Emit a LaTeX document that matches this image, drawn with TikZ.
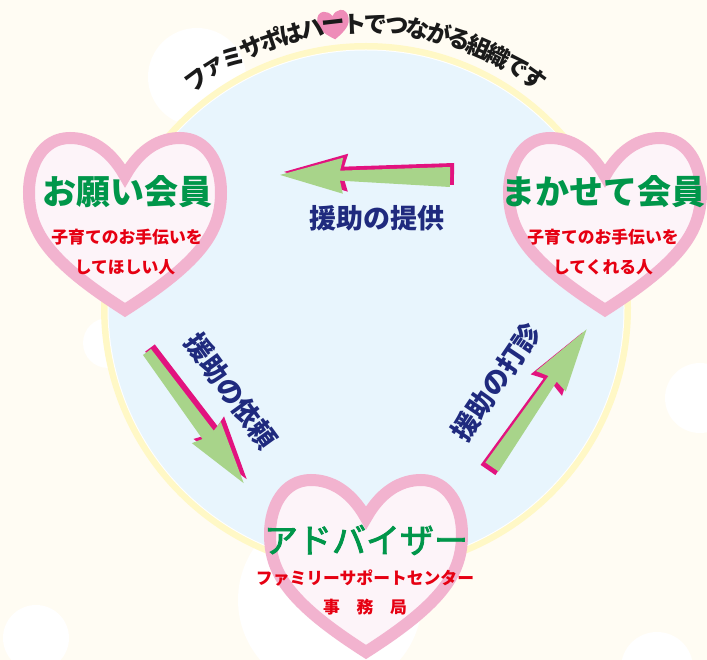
\documentclass[tikz,border=0pt]{standalone}
\usepackage{fontspec}
\newfontfamily\jp{Noto Sans CJK JP}
\newfontfamily\jpmed[FakeBold=2.5]{Noto Sans CJK JP}
\definecolor{bgcream}{HTML}{FFFCF3}
\definecolor{skyfill}{HTML}{E8F5FD}
\definecolor{ringyel}{HTML}{FFF8C6}
\definecolor{heartpink}{HTML}{F2B3CF}
\definecolor{heartin}{HTML}{FDF4F9}
\definecolor{titlegreen}{HTML}{00964A}
\definecolor{subred}{HTML}{E60012}
\definecolor{labnavy}{HTML}{1F2A7E}
\definecolor{arrgreen}{HTML}{A8D48A}
\definecolor{arrmag}{HTML}{E2137F}
\definecolor{smallheart}{HTML}{EE8CB8}
\definecolor{arcink}{HTML}{1A1A1A}

\newcommand\boltarrow[8]{%
 \begin{scope}[shift={(#1,#2)}]
  \begin{scope}[shift={(#7,#8)},rotate=#3]
   \fill[arrmag] (0,{-#5-1}) -- ({#4-60},{-#6-1}) -- ({#4-64},-19) -- (#4,0) -- ({#4-64},19) -- ({#4-60},{#6+1}) -- (0,{#5+1}) -- cycle;
  \end{scope}
  \begin{scope}[rotate=#3]
   \fill[arrgreen] (0,-#5) -- ({#4-60},-#6) -- ({#4-63},-18) -- (#4,0) -- ({#4-63},18) -- ({#4-60},#6) -- (0,#5) -- cycle;
  \end{scope}
 \end{scope}}

\tikzset{
 pics/bigheart/.style={code={
  \draw[line width=12pt, heartpink, fill=heartin, line join=miter, miter limit=10]
   (-96,-32) .. controls (-96,5) and (-80,35) .. (0,86)
   .. controls (80,35) and (96,5) .. (96,-32)
   .. controls (96,-60) and (82,-86) .. (55,-86)
   .. controls (35,-86) and (15,-75) .. (0,-48)
   .. controls (-15,-75) and (-35,-86) .. (-55,-86)
   .. controls (-82,-86) and (-96,-60) .. (-96,-32) -- cycle;
 }},
 pics/tinyheart/.style={code={
  \fill[smallheart]
   (-102,-32) .. controls (-102,5) and (-85,38) .. (0,93)
   .. controls (85,38) and (102,5) .. (102,-32)
   .. controls (102,-64) and (86,-92) .. (55,-92)
   .. controls (35,-92) and (15,-80) .. (0,-58)
   .. controls (-15,-80) and (-35,-92) .. (-55,-92)
   .. controls (-86,-92) and (-102,-64) .. (-102,-32) -- cycle;
 }},
 greentitle/.style={font=\jp\bfseries\fontsize{34}{40}\selectfont, text=titlegreen, inner sep=0pt},
 greenplain/.style={font=\jpmed\fontsize{34}{40}\selectfont, text=titlegreen, inner sep=0pt},
 redsub/.style={font=\jp\bfseries\fontsize{16.8}{20}\selectfont, text=subred, inner sep=0pt},
 navylab/.style={font=\jp\bfseries\fontsize{27}{32}\selectfont, text=labnavy, inner sep=0pt},
 arcchar/.style={font=\jp\bfseries\fontsize{23.5}{26}\selectfont, text=arcink, inner sep=0pt},
}

\begin{document}
\begin{tikzpicture}[x=1pt,y=-1pt]
\useasboundingbox (0,0) rectangle (707,660);
\fill[bgcream] (0,0) rectangle (707,660);
% faint white background circles
\foreach \cx/\cy/\r in {197/77/49, 108/343/25, 700/398/35, 36/638/33, 330/600/92, 657/668/36}
  \fill[white] (\cx,\cy) circle[radius=\r];
% big circle
\coordinate (ctr) at (366,308);
\fill[ringyel] (ctr) circle[radius=265];
\fill[white] (ctr) circle[radius=258.5];
\fill[skyfill] (ctr) circle[radius=257.5];
% arrows
\boltarrow{450}{177}{179.3}{170}{10}{5}{4}{-3}
\boltarrow{147}{352}{-53.6}{163}{5}{7}{3}{-4}
\boltarrow{492}{467}{55.5}{167}{8}{5}{-4}{3}
% arrow labels
\node[navylab] (lprov) at (377,218) {援助の提供};
\node[navylab, rotate=-54] (lreq) at (231,391) {援助の依頼};
\node[navylab, rotate=56] (lask) at (496,382) {援助の打診};
% hearts
\pic at (125,224) {bigheart};
\pic at (605,224) {bigheart};
\pic at (366,566) {bigheart};
% heart texts
\node[greentitle] (onegai) at (127,192) {お願い会員};
\node[redsub] (o1) at (127,237) {子育てのお手伝いを};
\node[redsub] (o2) at (125,267) {してほしい人};
\node[greentitle] (makase) at (603,192) {まかせて会員};
\node[redsub] (m1) at (603,237) {子育てのお手伝いを};
\node[redsub] (m2) at (603,267) {してくれる人};
\node[greenplain] (adv) at (366,540) {アドバイザー};
\node[redsub] (a1) at (365,578) {ファミリーサポートセンター};
\node[redsub] (a2) at (365,607) {事　務　局};
% arc text
\pic[rotate=6.5, scale=0.155] at (333.5,25) {tinyheart};
\foreach \c [count=\i from 0] in {フ,ァ,ミ,サ,ポ,は,ハ,ー,ト,で,つ,な,が,る,組,織,で,す} {
  \pgfmathsetmacro\ang{126.5-\i*4.28}
  \pgfmathsetmacro\rot{\ang-90}
  \node[arcchar, rotate=\rot] (t\i) at ({366+284*cos(\ang)},{308-284*sin(\ang)}) {\c};
}
\end{tikzpicture}
\end{document}
